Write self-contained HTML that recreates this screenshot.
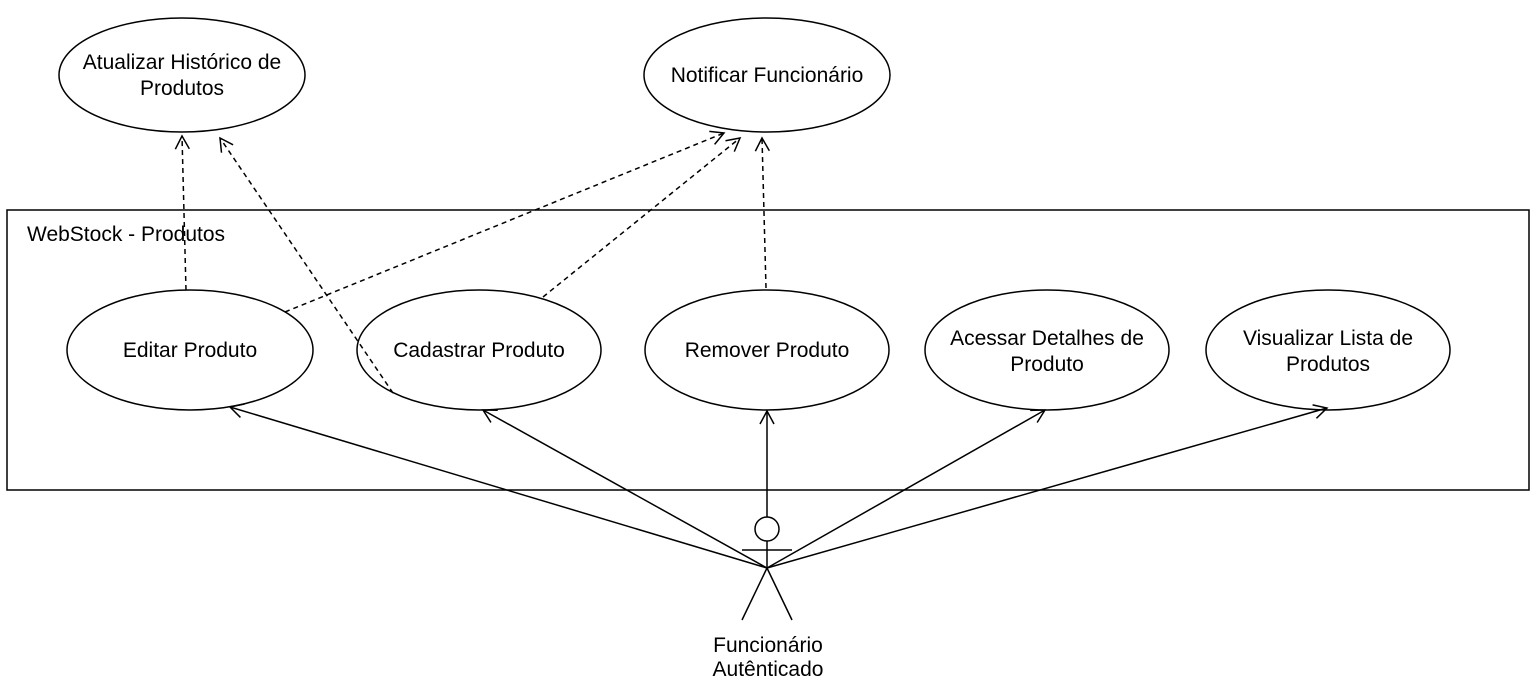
<!DOCTYPE html>
<html><head><meta charset="utf-8"><style>
html,body{margin:0;padding:0;background:#fff;}
svg{display:block;}
text{font-family:"Liberation Sans",sans-serif;font-size:21px;fill:#000;}
</style></head><body>
<svg width="1535" height="679" viewBox="0 0 1535 679" xmlns="http://www.w3.org/2000/svg">
<defs>
<marker id="a" markerWidth="16" markerHeight="16" refX="14" refY="8" orient="auto" markerUnits="userSpaceOnUse">
<path d="M1,1 L14,8 L1,15" fill="none" stroke="#000" stroke-width="1.5"/>
</marker>
</defs>
<rect x="7" y="210" width="1522" height="280" fill="#fff" stroke="#000" stroke-width="1.5"/>
<text x="27" y="241">WebStock - Produtos</text>
<g fill="#fff" stroke="#000" stroke-width="1.5">
<ellipse cx="182" cy="75" rx="123" ry="57"/>
<ellipse cx="767" cy="75" rx="123" ry="57"/>
<ellipse cx="190" cy="350" rx="123" ry="60"/>
<ellipse cx="479" cy="350" rx="122" ry="60"/>
<ellipse cx="767" cy="350" rx="122" ry="60"/>
<ellipse cx="1047" cy="350" rx="122" ry="60"/>
<ellipse cx="1328" cy="350" rx="122" ry="60"/>
</g>
<g text-anchor="middle">
<text x="182" y="69">Atualizar Histórico de</text>
<text x="182" y="95">Produtos</text>
<text x="767" y="82">Notificar Funcionário</text>
<text x="190" y="357">Editar Produto</text>
<text x="479" y="357">Cadastrar Produto</text>
<text x="767" y="357">Remover Produto</text>
<text x="1047" y="345">Acessar Detalhes de</text>
<text x="1047" y="371">Produto</text>
<text x="1328" y="345">Visualizar Lista de</text>
<text x="1328" y="371">Produtos</text>
<text x="768" y="652">Funcionário</text>
<text x="768" y="676">Autênticado</text>
</g>
<g stroke="#000" stroke-width="1.5" fill="none" stroke-dasharray="5,4" marker-end="url(#a)">
<line x1="186" y1="290" x2="182" y2="136"/>
<line x1="393" y1="393" x2="220" y2="138"/>
<line x1="285" y1="312" x2="724" y2="133"/>
<line x1="543" y1="297" x2="740" y2="138"/>
<line x1="766" y1="288" x2="762" y2="138"/>
</g>
<g stroke="#000" stroke-width="1.5" fill="none" marker-end="url(#a)">
<line x1="767" y1="568" x2="230" y2="407"/>
<line x1="767" y1="568" x2="483" y2="410"/>
<line x1="767" y1="517" x2="767" y2="411"/>
<line x1="767" y1="568" x2="1045" y2="410"/>
<line x1="767" y1="568" x2="1327" y2="408"/>
</g>
<g stroke="#000" stroke-width="1.5" fill="none">
<circle cx="767" cy="529" r="12" fill="#fff"/>
<line x1="742" y1="550" x2="792" y2="550"/>
<line x1="767" y1="541" x2="767" y2="568"/>
<line x1="767" y1="568" x2="742" y2="620"/>
<line x1="767" y1="568" x2="792" y2="620"/>
</g>
</svg>
</body></html>
